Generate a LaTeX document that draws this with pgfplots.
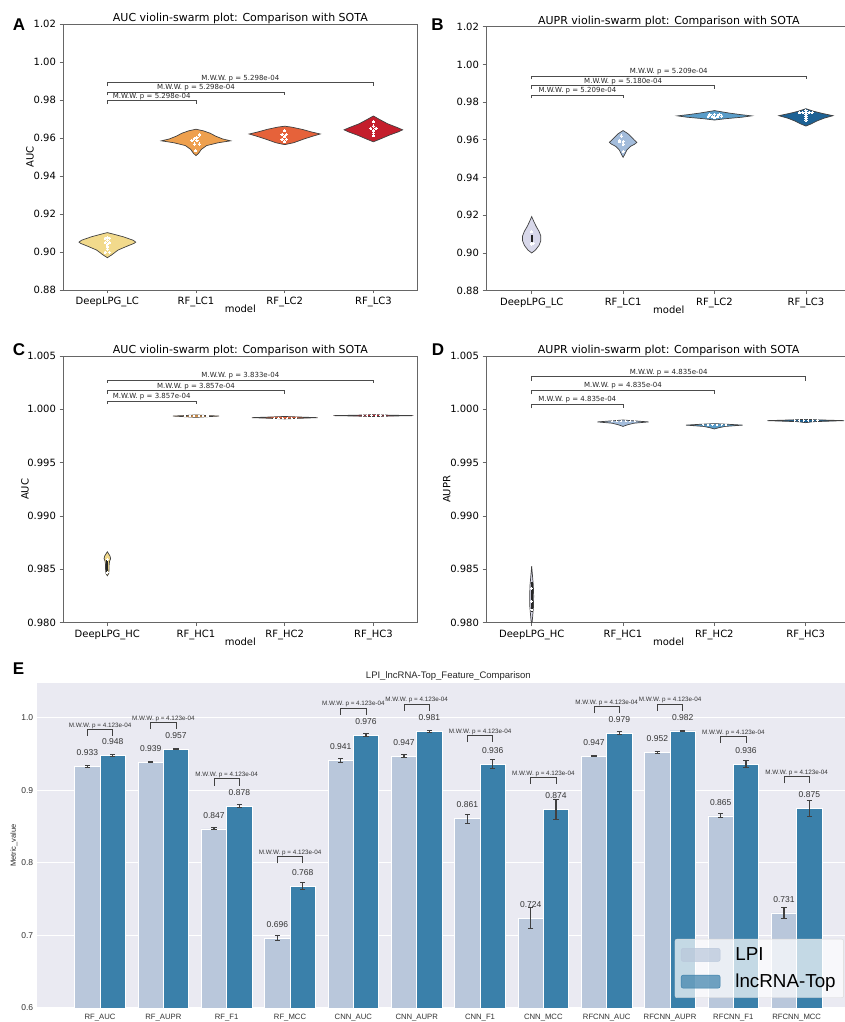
\documentclass[border=0pt]{standalone}
\usepackage{pgfplots}
\pgfplotsset{compat=1.18}
\usepackage{pgfplotstable}
\usepackage{fontspec}
\setmainfont{DejaVu Sans}
\newfontfamily\arialf{Liberation Sans}

\definecolor{yA}{HTML}{F2DA8C}
\definecolor{oA}{HTML}{EEA04E}
\definecolor{rA}{HTML}{E6623A}
\definecolor{cA}{HTML}{C41E2C}
\definecolor{pB}{HTML}{D8D8EA}
\definecolor{lB}{HTML}{A3BCDB}
\definecolor{mB}{HTML}{5A9DC9}
\definecolor{dB}{HTML}{1D6295}
\definecolor{bgE}{HTML}{EAEAF2}
\definecolor{lpic}{HTML}{B9C7DB}
\definecolor{topc}{HTML}{3A80AA}

\pgfplotstableread{
x y e lab
-0.2 0.933 0.0012 0.933
0.8 0.939 0.0012 0.939
1.8 0.847 0.0012 0.847
2.8 0.696 0.0035 0.696
3.8 0.941 0.0025 0.941
4.8 0.947 0.002 0.947
5.8 0.861 0.006 0.861
6.8 0.724 0.0145 0.724
7.8 0.947 0.001 0.947
8.8 0.952 0.001 0.952
9.8 0.865 0.003 0.865
10.8 0.731 0.007 0.731
}\lpidata

\pgfplotstableread{
x y e lab
0.2 0.948 0.001 0.948
1.2 0.957 0.001 0.957
2.2 0.878 0.002 0.878
3.2 0.768 0.005 0.768
4.2 0.976 0.002 0.976
5.2 0.981 0.0015 0.981
6.2 0.936 0.006 0.936
7.2 0.874 0.014 0.874
8.2 0.979 0.0015 0.979
9.2 0.982 0.001 0.982
10.2 0.936 0.005 0.936
11.2 0.875 0.0105 0.875
}\topdata

\pgfplotsset{
 vio/.style={scale only axis, xmin=-0.5, xmax=3.5, xtick={0,1,2,3},
  tick pos=left, tick align=outside, major tick length=3.5pt,
  axis line style={black!60, line width=0.8pt},
  tick style={black!60, line width=0.8pt},
  ticklabel style={font=\fontsize{10}{12}\selectfont},
  label style={font=\fontsize{10}{12}\selectfont},
  every axis title/.style={font=\fontsize{11}{13}\selectfont, at={(0.5,1)}, anchor=base, yshift=2.5pt},
  xlabel=model, xlabel style={at={(axis description cs:0.5,-0.072)}, anchor=center}},
 vl/.style={draw=black!75, line width=0.7pt, fill=#1},
 sw/.style={only marks, mark=*, mark size=1.1pt, color=white, mark options={fill=white, draw=white, line width=0pt}},
 br/.style={black!70, line width=0.8pt},
 ebr/.style={black!75, line width=0.9pt},
}
\tikzset{
 brt/.style={anchor=south, inner sep=0.6pt, font=\fontsize{7}{8}\selectfont, text=black!85},
 ebt/.style={anchor=south, inner sep=0.6pt, font=\arialf\fontsize{6.3}{7}\selectfont, text=black!80},
}

\begin{document}
\begin{tikzpicture}

% ---------------- Panel A ----------------
\begin{axis}[vio, at={(63pt,732pt)}, anchor=south west, width=354.7pt, height=266pt,
 ymin=0.88, ymax=1.02, ytick={0.88,0.90,0.92,0.94,0.96,0.98,1.00,1.02},
 yticklabels={0.88,0.90,0.92,0.94,0.96,0.98,1.00,1.02},
 xticklabels={DeepLPG\_LC,RF\_LC1,RF\_LC2,RF\_LC3},
 ylabel={AUC}, ylabel style={at={(axis description cs:-0.093,0.5)},anchor=center},
 title={AUC violin-swarm plot: Comparison with SOTA}]
\addplot[vl=yA] coordinates {(0,0.8970) (-0.05,0.8985) (-0.12,0.9010) (-0.22,0.9030) (-0.30,0.9045) (-0.32,0.9052) (-0.29,0.9062) (-0.18,0.9080) (-0.06,0.9095) (0,0.9102) (0.06,0.9095) (0.18,0.9080) (0.29,0.9062) (0.32,0.9052) (0.30,0.9045) (0.22,0.9030) (0.12,0.9010) (0.05,0.8985)} --cycle;
\addplot[vl=oA] coordinates {(1,0.9507) (0.97,0.9520) (0.94,0.9540) (0.88,0.9560) (0.75,0.9575) (0.61,0.9585) (0.70,0.9595) (0.78,0.9610) (0.84,0.9625) (0.92,0.9638) (1,0.9646) (1.08,0.9638) (1.16,0.9625) (1.22,0.9610) (1.30,0.9595) (1.39,0.9585) (1.25,0.9575) (1.12,0.9560) (1.06,0.9540) (1.03,0.9520)} --cycle;
\addplot[vl=rA] coordinates {(2,0.9565) (1.90,0.9575) (1.78,0.9595) (1.68,0.9610) (1.60,0.9621) (1.70,0.9632) (1.80,0.9645) (1.92,0.9657) (2,0.9662) (2.08,0.9657) (2.20,0.9645) (2.30,0.9632) (2.40,0.9621) (2.32,0.9610) (2.22,0.9595) (2.10,0.9575)} --cycle;
\addplot[vl=cA] coordinates {(3,0.9580) (2.92,0.9595) (2.82,0.9615) (2.72,0.9632) (2.67,0.9643) (2.73,0.9655) (2.84,0.9675) (2.94,0.9700) (3,0.9716) (3.06,0.9700) (3.16,0.9675) (3.27,0.9655) (3.33,0.9643) (3.28,0.9632) (3.18,0.9615) (3.08,0.9595)} --cycle;
\addplot[sw] coordinates {(0,0.9075) (-0.025,0.9073) (0.025,0.9073) (0,0.9062) (-0.025,0.9050) (0.025,0.9050) (0,0.9040) (0,0.9028) (0,0.9015) (-0.025,0.8999) (0.025,0.8999)};
\addplot[sw] coordinates {(1.037,0.9616) (0.98,0.9598) (1.011,0.9603) (0.954,0.9586) (1.011,0.9586) (0.984,0.9568) (1.037,0.9568) (0.995,0.9533)};
\addplot[sw] coordinates {(2,0.9638) (1.97,0.9619) (2.02,0.9619) (2,0.9607) (1.97,0.9593) (2.02,0.9593) (2,0.9581)};
\addplot[sw] coordinates {(3,0.9686) (3,0.9663) (2.97,0.9651) (3.03,0.9651) (3,0.9639) (3,0.9625) (3,0.9611)};
\addplot[br] coordinates {(0,0.9778) (0,0.9796) (1,0.9796) (1,0.9778)};
\addplot[br] coordinates {(0,0.9824) (0,0.9842) (2,0.9842) (2,0.9824)};
\addplot[br] coordinates {(0,0.9873) (0,0.9891) (3,0.9891) (3,0.9873)};
\node[brt] at (axis cs:0.5,0.9796) {M.W.W. p = 5.298e-04};
\node[brt] at (axis cs:1,0.9842) {M.W.W. p = 5.298e-04};
\node[brt] at (axis cs:1.5,0.9891) {M.W.W. p = 5.298e-04};
\end{axis}

% ---------------- Panel B ----------------
\begin{axis}[vio, at={(486pt,731.3pt)}, anchor=south west, width=365.6pt, height=264pt,
 ymin=0.88, ymax=1.02, ytick={0.88,0.90,0.92,0.94,0.96,0.98,1.00,1.02},
 yticklabels={0.88,0.90,0.92,0.94,0.96,0.98,1.00,1.02},
 xticklabels={DeepLPG\_LC,RF\_LC1,RF\_LC2,RF\_LC3},
 title={AUPR violin-swarm plot: Comparison with SOTA}]
\addplot[vl=pB] coordinates {(0,0.9000) (-0.04,0.9015) (-0.08,0.9040) (-0.10,0.9065) (-0.10,0.9090) (-0.08,0.9115) (-0.05,0.9140) (-0.025,0.9165) (0,0.9193) (0.025,0.9165) (0.05,0.9140) (0.08,0.9115) (0.10,0.9090) (0.10,0.9065) (0.08,0.9040) (0.04,0.9015)} --cycle;
\addplot[fill=black!85, draw=none] coordinates {(-0.012,0.9060) (0.012,0.9060) (0.012,0.9096) (-0.012,0.9096)} --cycle;
\addplot[vl=lB] coordinates {(1,0.9507) (0.98,0.9525) (0.96,0.9545) (0.92,0.9565) (0.87,0.9578) (0.85,0.9587) (0.88,0.9600) (0.91,0.9615) (0.94,0.9630) (0.97,0.9640) (1,0.9649) (1.03,0.9640) (1.06,0.9630) (1.09,0.9615) (1.12,0.9600) (1.15,0.9587) (1.13,0.9578) (1.08,0.9565) (1.04,0.9545) (1.02,0.9525)} --cycle;
\addplot[vl=mB] coordinates {(2,0.9705) (1.88,0.9712) (1.70,0.9720) (1.595,0.9727) (1.72,0.9734) (1.84,0.9742) (1.94,0.9750) (2,0.9755) (2.06,0.9750) (2.16,0.9742) (2.28,0.9734) (2.405,0.9727) (2.30,0.9720) (2.12,0.9712)} --cycle;
\addplot[vl=dB] coordinates {(3,0.9673) (2.94,0.9685) (2.88,0.9700) (2.80,0.9715) (2.704,0.9728) (2.82,0.9740) (2.92,0.9752) (3,0.9765) (3.08,0.9752) (3.18,0.9740) (3.296,0.9728) (3.20,0.9715) (3.12,0.9700) (3.06,0.9685)} --cycle;
\addplot[sw] coordinates {(0,0.9113) (0,0.9048) (0.02,0.9052)};
\addplot[sw] coordinates {(0.98,0.9620) (0.96,0.9597) (1.0,0.9590) (0.96,0.9590) (1.0,0.9577) (1.0,0.9537)};
\addplot[sw] coordinates {(1.95,0.9733) (2.0,0.9736) (2.05,0.9733) (1.93,0.9724) (1.98,0.9722) (2.03,0.9722) (2.08,0.9726) (2.0,0.9717)};
\addplot[sw] coordinates {(2.93,0.9745) (2.965,0.9745) (3.035,0.9745) (3.07,0.9745) (3,0.9755) (3,0.9745) (3,0.9735) (3,0.9725) (3,0.9715) (3,0.9705)};
\addplot[br] coordinates {(0,0.9820) (0,0.9838) (1,0.9838) (1,0.9820)};
\addplot[br] coordinates {(0,0.9871) (0,0.9889) (2,0.9889) (2,0.9871)};
\addplot[br] coordinates {(0,0.9921) (0,0.9939) (3,0.9939) (3,0.9921)};
\node[brt] at (axis cs:0.5,0.9838) {M.W.W. p = 5.209e-04};
\node[brt] at (axis cs:1,0.9889) {M.W.W. p = 5.180e-04};
\node[brt] at (axis cs:1.5,0.9939) {M.W.W. p = 5.209e-04};
\end{axis}

% ---------------- Panel C ----------------
\begin{axis}[vio, at={(63pt,399.3pt)}, anchor=south west, width=354.7pt, height=266.7pt,
 ymin=0.980, ymax=1.005, ytick={0.980,0.985,0.990,0.995,1.000,1.005},
 yticklabels={0.980,0.985,0.990,0.995,1.000,1.005},
 xticklabels={DeepLPG\_HC,RF\_HC1,RF\_HC2,RF\_HC3},
 ylabel={AUC}, ylabel style={at={(axis description cs:-0.107,0.5)},anchor=center},
 title={AUC violin-swarm plot: Comparison with SOTA}]
\addplot[vl=yA] coordinates {(0,0.98440) (-0.015,0.98460) (-0.02,0.98500) (-0.02,0.98540) (-0.025,0.98575) (-0.037,0.98600) (-0.03,0.98625) (-0.015,0.98645) (0,0.98665) (0.015,0.98645) (0.03,0.98625) (0.037,0.98600) (0.025,0.98575) (0.02,0.98540) (0.02,0.98500) (0.015,0.98460)} --cycle;
\addplot[fill=black!85, draw=none] coordinates {(-0.012,0.98475) (0.012,0.98475) (0.012,0.98585) (-0.012,0.98585)} --cycle;
\addplot[vl=oA] coordinates {(1,0.99925) (0.85,0.99932) (0.74,0.99937) (0.88,0.99942) (1,0.99948) (1.12,0.99942) (1.26,0.99937) (1.15,0.99932)} --cycle;
\addplot[vl=rA] coordinates {(2,0.99910) (1.80,0.99917) (1.63,0.99922) (1.80,0.99927) (2,0.99933) (2.20,0.99927) (2.37,0.99922) (2.20,0.99917)} --cycle;
\addplot[vl=cA] coordinates {(3,0.99932) (2.80,0.99937) (2.55,0.99941) (2.80,0.99945) (3,0.99950) (3.20,0.99945) (3.45,0.99941) (3.20,0.99937)} --cycle;
\addplot[sw, mark size=0.8pt] coordinates {(0,0.98595) (0,0.98470)};
\addplot[sw, mark size=0.6pt] coordinates {(0.88,0.99938) (0.93,0.99938) (0.98,0.99938) (1.03,0.99938) (1.08,0.99938) (1.13,0.99938)};
\addplot[sw, mark size=0.6pt] coordinates {(1.88,0.99918) (1.93,0.99918) (1.98,0.99918) (2.03,0.99918) (2.08,0.99918) (2.13,0.99918)};
\addplot[sw, mark size=0.6pt] coordinates {(2.88,0.99942) (2.93,0.99942) (2.98,0.99942) (3.03,0.99942) (3.08,0.99942) (3.13,0.99942)};
\addplot[br] coordinates {(0,1.00048) (0,1.00078) (1,1.00078) (1,1.00048)};
\addplot[br] coordinates {(0,1.00148) (0,1.00178) (2,1.00178) (2,1.00148)};
\addplot[br] coordinates {(0,1.00245) (0,1.00275) (3,1.00275) (3,1.00245)};
\node[brt] at (axis cs:0.5,1.00078) {M.W.W. p = 3.857e-04};
\node[brt] at (axis cs:1,1.00178) {M.W.W. p = 3.857e-04};
\node[brt] at (axis cs:1.5,1.00275) {M.W.W. p = 3.833e-04};
\end{axis}

% ---------------- Panel D ----------------
\begin{axis}[vio, at={(486pt,399.3pt)}, anchor=south west, width=365.3pt, height=266.7pt,
 ymin=0.980, ymax=1.005, ytick={0.980,0.985,0.990,0.995,1.000,1.005},
 yticklabels={0.980,0.985,0.990,0.995,1.000,1.005},
 xticklabels={DeepLPG\_HC,RF\_HC1,RF\_HC2,RF\_HC3},
 ylabel={AUPR}, ylabel style={at={(axis description cs:-0.107,0.5)},anchor=center},
 title={AUPR violin-swarm plot: Comparison with SOTA}]
\addplot[vl=pB] coordinates {(0,0.9796) (-0.01,0.9805) (-0.02,0.9815) (-0.022,0.9825) (-0.018,0.9835) (-0.01,0.9843) (0,0.9853) (0.01,0.9843) (0.018,0.9835) (0.022,0.9825) (0.02,0.9815) (0.01,0.9805)} --cycle;
\addplot[fill=black!85, draw=none] coordinates {(-0.01,0.9810) (0.01,0.9810) (0.01,0.9838) (-0.01,0.9838)} --cycle;
\addplot[vl=lB] coordinates {(1,0.99840) (0.95,0.99855) (0.88,0.99870) (0.72,0.99882) (0.86,0.99891) (1,0.99900) (1.14,0.99891) (1.28,0.99882) (1.12,0.99870) (1.05,0.99855)} --cycle;
\addplot[vl=mB] coordinates {(2,0.99816) (1.95,0.99828) (1.88,0.99840) (1.69,0.99852) (1.85,0.99860) (2,0.99866) (2.15,0.99860) (2.31,0.99852) (2.12,0.99840) (2.05,0.99828)} --cycle;
\addplot[vl=dB] coordinates {(3,0.99875) (2.92,0.99884) (2.58,0.99894) (2.85,0.99901) (3,0.99906) (3.15,0.99901) (3.42,0.99894) (3.08,0.99884)} --cycle;
\addplot[sw, mark size=0.7pt] coordinates {(0,0.9820) (0,0.9812) (0,0.9832)};
\addplot[sw, mark size=0.6pt] coordinates {(0.88,0.99888) (0.93,0.99888) (0.98,0.99888) (1.03,0.99888) (1.08,0.99888) (1.13,0.99888)};
\addplot[sw, mark size=0.6pt] coordinates {(1.88,0.99856) (1.93,0.99856) (1.98,0.99856) (2.03,0.99856) (2.08,0.99856) (2.13,0.99856)};
\addplot[sw, mark size=0.6pt] coordinates {(2.88,0.99896) (2.93,0.99896) (2.98,0.99896) (3.03,0.99896) (3.08,0.99896) (3.13,0.99896)};
\addplot[br] coordinates {(0,1.0001) (0,1.0005) (1,1.0005) (1,1.0001)};
\addplot[br] coordinates {(0,1.00141) (0,1.00181) (2,1.00181) (2,1.00141)};
\addplot[br] coordinates {(0,1.00266) (0,1.00306) (3,1.00306) (3,1.00266)};
\node[brt] at (axis cs:0.5,1.0005) {M.W.W. p = 4.835e-04};
\node[brt] at (axis cs:1,1.00181) {M.W.W. p = 4.835e-04};
\node[brt] at (axis cs:1.5,1.00306) {M.W.W. p = 4.835e-04};
\end{axis}

% ---------------- Panel E ----------------
\begin{axis}[scale only axis, at={(36.7pt,14pt)}, anchor=south west, width=823.3pt, height=325pt,
 xmin=-1, xmax=12, ymin=0.6, ymax=1.048,
 axis background/.style={fill=bgE}, axis line style={draw=none},
 ymajorgrids, grid style={white, line width=1pt}, major tick length=0pt,
 xtick={0,1,2,3,4,5,6,7,8,9,10,11},
 xticklabels={RF\_AUC,RF\_AUPR,RF\_F1,RF\_MCC,CNN\_AUC,CNN\_AUPR,CNN\_F1,CNN\_MCC,RFCNN\_AUC,RFCNN\_AUPR,RFCNN\_F1,RFCNN\_MCC},
 ytick={0.6,0.7,0.8,0.9,1.0}, yticklabels={0.6,0.7,0.8,0.9,1.0},
 xticklabel style={font=\arialf\fontsize{7.7}{9}\selectfont, text=black!80, yshift=-2.5pt},
 yticklabel style={font=\arialf\fontsize{8.5}{10}\selectfont, text=black!80},
 ylabel={Metric\_value}, ylabel style={font=\arialf\fontsize{7.5}{9}\selectfont, text=black!85, at={(axis description cs:-0.0276,0.5)}, anchor=center},
 title={LPI\_lncRNA-Top\_Feature\_Comparison},
 every axis title/.style={font=\arialf\fontsize{9.5}{11}\selectfont, text=black!85, at={(0.5,1)}, anchor=base, yshift=4.6pt},
 legend style={at={(0.775,0.031)}, anchor=south west, fill=white, fill opacity=0.7, text opacity=1, draw=black!15, rounded corners=2pt, font=\arialf\fontsize{18.8}{21}\selectfont, inner xsep=6pt, inner ysep=6.5pt, row sep=8pt, /tikz/every odd column/.append style={column sep=13pt}},
 legend cell align=left]
\addplot[ybar, bar width=0.4, bar shift=0pt, fill=lpic, draw=white, line width=0.4pt, forget plot,
 nodes near coords, point meta=explicit symbolic,
 every node near coord/.append style={font=\arialf\fontsize{8.5}{10}\selectfont, text=black!80, anchor=center, yshift=13.6pt},
 error bars/.cd, y dir=both, y explicit,
 error bar style={line width=1.2pt, black!75}, error mark options={rotate=90, mark size=2.6pt, line width=1pt, black!75}]
 table[x=x, y=y, y error=e, meta=lab]{\lpidata};
\addplot[ybar, bar width=0.4, bar shift=0pt, fill=topc, draw=white, line width=0.4pt, forget plot,
 nodes near coords, point meta=explicit symbolic,
 every node near coord/.append style={font=\arialf\fontsize{8.5}{10}\selectfont, text=black!80, anchor=center, yshift=13.6pt},
 error bars/.cd, y dir=both, y explicit,
 error bar style={line width=1.2pt, black!75}, error mark options={rotate=90, mark size=2.6pt, line width=1pt, black!75}]
 table[x=x, y=y, y error=e, meta=lab]{\topdata};
\addplot[ebr, forget plot] coordinates {(-0.2,0.9752) (-0.2,0.9844) (0.2,0.9844) (0.2,0.9752)};
\addplot[ebr, forget plot] coordinates {(0.8,0.9843) (0.8,0.9935) (1.2,0.9935) (1.2,0.9843)};
\addplot[ebr, forget plot] coordinates {(1.8,0.9067) (1.8,0.9159) (2.2,0.9159) (2.2,0.9067)};
\addplot[ebr, forget plot] coordinates {(2.8,0.7995) (2.8,0.8087) (3.2,0.8087) (3.2,0.7995)};
\addplot[ebr, forget plot] coordinates {(3.8,1.0042) (3.8,1.0134) (4.2,1.0134) (4.2,1.0042)};
\addplot[ebr, forget plot] coordinates {(4.8,1.0097) (4.8,1.0189) (5.2,1.0189) (5.2,1.0097)};
\addplot[ebr, forget plot] coordinates {(5.8,0.9664) (5.8,0.9756) (6.2,0.9756) (6.2,0.9664)};
\addplot[ebr, forget plot] coordinates {(6.8,0.9090) (6.8,0.9182) (7.2,0.9182) (7.2,0.9090)};
\addplot[ebr, forget plot] coordinates {(7.8,1.0064) (7.8,1.0156) (8.2,1.0156) (8.2,1.0064)};
\addplot[ebr, forget plot] coordinates {(8.8,1.0097) (8.8,1.0189) (9.2,1.0189) (9.2,1.0097)};
\addplot[ebr, forget plot] coordinates {(9.8,0.9650) (9.8,0.9742) (10.2,0.9742) (10.2,0.9650)};
\addplot[ebr, forget plot] coordinates {(10.8,0.9098) (10.8,0.9190) (11.2,0.9190) (11.2,0.9098)};
\node[ebt] at (axis cs:0,0.9844) {M.W.W. p = 4.123e-04};
\node[ebt] at (axis cs:1,0.9935) {M.W.W. p = 4.123e-04};
\node[ebt] at (axis cs:2,0.9159) {M.W.W. p = 4.123e-04};
\node[ebt] at (axis cs:3,0.8087) {M.W.W. p = 4.123e-04};
\node[ebt] at (axis cs:4,1.0134) {M.W.W. p = 4.123e-04};
\node[ebt] at (axis cs:5,1.0189) {M.W.W. p = 4.123e-04};
\node[ebt] at (axis cs:6,0.9756) {M.W.W. p = 4.123e-04};
\node[ebt] at (axis cs:7,0.9182) {M.W.W. p = 4.123e-04};
\node[ebt] at (axis cs:8,1.0156) {M.W.W. p = 4.123e-04};
\node[ebt] at (axis cs:9,1.0189) {M.W.W. p = 4.123e-04};
\node[ebt] at (axis cs:10,0.9742) {M.W.W. p = 4.123e-04};
\node[ebt] at (axis cs:11,0.9190) {M.W.W. p = 4.123e-04};
\addlegendimage{legend image code/.code={\fill[lpic] (0pt,-6.5pt) rectangle (39pt,6.5pt);}}
\addlegendentry{LPI}
\addlegendimage{legend image code/.code={\fill[topc] (0pt,-6.5pt) rectangle (39pt,6.5pt);}}
\addlegendentry{lncRNA-Top}
\end{axis}

% panel letters
\node[font=\arialf\bfseries\fontsize{17}{20}\selectfont] at (19pt,997pt) {A};
\node[font=\arialf\bfseries\fontsize{17}{20}\selectfont] at (437.5pt,997pt) {B};
\node[font=\arialf\bfseries\fontsize{17}{20}\selectfont] at (19pt,672pt) {C};
\node[font=\arialf\bfseries\fontsize{17}{20}\selectfont] at (438pt,672pt) {D};
\node[font=\arialf\bfseries\fontsize{17}{20}\selectfont] at (18.5pt,353pt) {E};

\pgfresetboundingbox
\useasboundingbox (0pt,0pt) rectangle (844pt,1022pt);
\end{tikzpicture}
\end{document}
